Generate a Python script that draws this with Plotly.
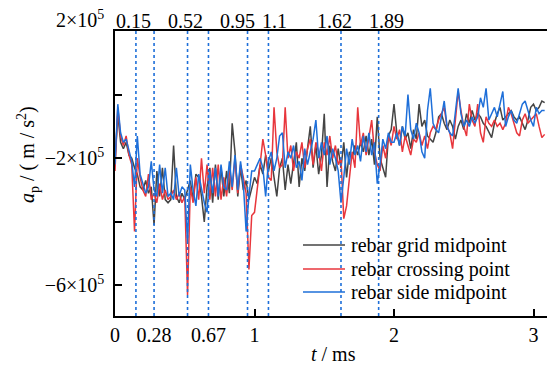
import plotly.graph_objects as go

# ---------------- data (acceleration in units of 10^5 m/s^2) ----------------
T_STEP = 0.02
N_PTS = 155
t_ms = [round(i * T_STEP, 2) for i in range(N_PTS)]

grid_midpoint = [
    -2.1, -0.6, -1.5, -1.7, -1.5, -1.9, -2.0, -2.3, -2.5, -2.9,
    -3.0, -2.7, -3.1, -2.9, -4.1, -2.4, -3.2, -2.3, -3.3, -3.4,
    -3.3, -1.6, -3.2, -3.4, -3.1, -3.3, -3.0, -2.7, -3.3, -2.5,
    -2.6, -3.2, -4.0, -2.9, -2.3, -3.4, -2.2, -3.3, -2.3, -3.2,
    -2.4, -3.1, -0.9, -1.8, -3.2, -2.3, -3.0, -2.7, -3.3, -2.9,
    -2.6, -2.8, -2.2, -2.5, -1.9, -2.4, -2.0, -2.6, -3.2, -2.3,
    -2.0, -3.0, -2.2, -2.8, -2.1, -1.5, -2.9, -2.0, -2.4, -1.7,
    -1.0, -2.3, -1.6, -2.5, -1.9, -0.6, -2.9, -1.6, -2.1, -2.4,
    -1.7, -2.3, -1.5, -2.6, -1.8, -2.0, -1.6, -1.9, -1.5, -1.8,
    -1.3, -1.9, -1.4, -2.2, -0.7, -2.0, -2.3, -2.6, -1.3, -1.1,
    -0.3, -1.2, -1.6, -1.0, -1.4, -1.2, -1.7, -1.1, -1.4, -0.3,
    -1.0, -0.8, -1.3, -1.4, -1.5, -1.2, -0.7, -0.6, -0.9, -1.1,
    -0.8, -1.0, -1.4, -1.0, -0.8, -1.1, -0.6, -0.9, -0.5, -0.8,
    -0.6, -0.7, -0.9, -1.0, -1.2, -1.35, -0.9, -0.6, -0.4, -0.8,
    -0.7, -0.6, -0.5, -0.7, -0.8, -0.7, -0.9, -1.1, -0.8, -0.4,
    -0.3, -0.5, -0.4, -0.2, -0.25,
]

crossing_point = [
    -2.4, -0.4, -1.3, -1.6, -1.3, -1.9, -2.2, -4.3, -2.0, -2.6,
    -3.0, -3.2, -2.5, -3.3, -3.1, -3.4, -2.8, -3.3, -3.0, -3.3,
    -3.2, -3.0, -3.3, -3.1, -3.4, -3.2, -6.3, -2.9, -3.4, -2.6,
    -3.3, -2.0, -3.1, -2.2, -3.3, -2.3, -3.2, -2.2, -3.3, -2.6,
    -3.2, -2.3, -3.0, -2.0, -3.1, -2.2, -2.6, -3.1, -5.5, -3.8,
    -3.7, -3.0, -2.2, -1.4, -1.9, -2.6, -2.7, -0.4, -1.8, -2.3,
    -2.2, -0.4, -2.0, -1.6, -2.4, -1.8, -2.0, -1.5, -2.3, -1.7,
    -1.4, -2.2, -1.5, -1.8, -2.4, -1.5, -1.9, -1.3, -2.0, -1.6,
    -2.2, -2.0, -3.9, -3.5, -2.6, -1.8, -2.3, -0.4, -1.6, -1.2,
    -1.9, -1.4, -0.8, -1.8, -2.2, -2.4, -1.6, -2.0, -1.3, -1.6,
    -1.0, -1.4, -1.1, -1.8, -1.3, -1.6, -1.9, -1.4, -1.5, -1.2,
    -1.6, -1.3, -1.7, -1.2, -1.0, -1.1, -0.8, -0.6, -0.4, -1.0,
    -1.2, -1.7, -0.9, 0.1, -0.5, -1.0, -1.3, -0.3, -0.8, -1.0,
    -0.3, -1.2, -1.5, -0.7, -0.9, -1.0, -0.8, -1.0, -0.9, -1.1,
    -0.9, -0.4, -0.6, -0.9, -1.2, -1.3, -0.8, -0.6, -0.9, -0.8,
    -0.7, -0.6, -1.0, -1.35, -1.25,
]

side_midpoint = [
    -2.2, -0.3, -1.2, -1.5, -1.4, -1.8, -2.1, -2.9, -1.3, -2.5,
    -2.8, -3.1, -2.9, -2.1, -3.0, -3.2, -2.2, -3.1, -2.3, -3.2,
    -3.1, -3.3, -2.3, -3.2, -2.9, -3.0, -4.6, -2.2, -3.0, -3.5,
    -2.5, -3.0, -3.4, -3.7, -2.4, -3.1, -2.3, -3.2, -2.2, -2.9,
    -3.0, -2.1, -2.9, -1.9, -3.0, -2.1, -2.8, -4.3, -3.2, -2.4,
    -2.4, -2.2, -2.0, -2.3, -3.2, -2.1, -1.8, -2.4, -2.0, -1.3,
    -1.2, -2.3, -1.8, -2.0, -1.6, -2.3, -2.1, -2.7, -1.7, -2.2,
    -1.8, -1.4, -0.8, -2.0, -1.5, -1.9, -1.3, -2.2, -1.7, -2.0,
    -2.4, -3.4, -2.6, -1.7, -2.2, -1.4, -1.9, -1.6, -2.1, -1.3,
    -1.8, -1.2, -1.9, -1.5, -2.8, -2.2, -1.4, -1.7, -1.2, -1.5,
    -1.5, -1.2, -1.6, -1.0, -1.3, 0.0, -1.1, -1.4, -0.9, -1.2,
    -1.8, -2.0, -0.5, 0.2, -0.9, -1.1, -1.2, -0.7, -0.2, -1.0,
    -1.2, -1.3, -0.6, 0.2, -0.6, -1.0, -0.8, -1.0, -0.7, -0.9,
    -0.7, -0.1, -0.4, 0.2, -0.8, -0.6, -0.4, -0.7, -0.3, 0.1,
    -1.0, -0.7, -0.5, -0.8, -0.9, -0.6, -0.3, -0.2, -0.5, -0.8,
    -1.0, -0.4, -0.6, -0.5, -0.5,
]

series_names = ["rebar grid midpoint", "rebar crossing point", "rebar side midpoint"]
series_values = [grid_midpoint, crossing_point, side_midpoint]
series_colors = ["#444444", "#e8363c", "#1e6fd9"]

marker_times = [0.15, 0.28, 0.52, 0.67, 0.95, 1.1, 1.62, 1.89]
bottom_tick_vals = [0, 0.28, 0.67, 1, 2, 3]
bottom_tick_text = ["0", "0.28", "0.67", "1", "2", "3"]
top_label_vals = [0.15, 0.52, 0.95, 1.1, 1.62, 1.89]
top_label_text = ["0.15", "0.52", "0.95", "1.1", "1.62", "1.89"]
top_label_shift = [-2, -2, -10, 6, -6, 8]
y_label_vals = [-2, -6]
y_label_text = ["−2×10<sup>5</sup>", "−6×10<sup>5</sup>"]
y_minor_vals = [2, 0, -4]
y_top_label = "2×10<sup>5</sup>"

# ---------------- layout geometry ----------------
W, H = 547, 367
ML, MR, MT, MB = 115, 0, 31, 51
PW, PH = W - ML - MR, H - MT - MB
FONT = "Liberation Serif"
FS = 20
Y_RANGE = [-6.96, 2.0]


def px_x(px):
    return (px - ML) / PW


def px_y(py):
    return (H - MB - py) / PH


fig = go.Figure()
for name, vals, col in zip(series_names, series_values, series_colors):
    fig.add_trace(go.Scatter(x=t_ms, y=vals, mode="lines", name=name,
                             line=dict(color=col, width=1.5), showlegend=False))

x_range = [0, PW / 139.5]

shapes = []
for tm in marker_times:
    shapes.append(dict(type="line", xref="x", yref="paper", x0=tm, x1=tm, y0=0, y1=1,
                       line=dict(color="#1e6fd9", width=1.6, dash="3px,3px"), layer="above"))

annotations = []
for v, txt, sh in zip(top_label_vals, top_label_text, top_label_shift):
    annotations.append(dict(xref="x", yref="paper", x=v, y=px_y(21), xshift=sh,
                            text=txt, showarrow=False, xanchor="center", yanchor="middle",
                            font=dict(family=FONT, size=FS, color="black")))

annotations.append(dict(xref="paper", yref="paper", x=px_x(106), y=px_y(19),
                        text=y_top_label, showarrow=False, xanchor="right", yanchor="middle",
                        font=dict(family=FONT, size=FS, color="black")))

legend_rows = [245, 269, 292]
for name, col, py in zip(series_names, series_colors, legend_rows):
    shapes.append(dict(type="line", xref="paper", yref="paper",
                       x0=px_x(303), x1=px_x(345), y0=px_y(py), y1=px_y(py),
                       line=dict(color=col, width=1.5)))
    annotations.append(dict(xref="paper", yref="paper", x=px_x(349), y=px_y(py),
                            text=name, showarrow=False, xanchor="left", yanchor="middle",
                            font=dict(family=FONT, size=FS, color="black")))

annotations.append(dict(xref="paper", yref="paper", x=px_x(28), y=px_y(155),
                        text="<i>a</i><sub>p</sub> / ( m / s<sup>2</sup>)", textangle=-90,
                        showarrow=False, xanchor="center", yanchor="middle",
                        font=dict(family=FONT, size=FS, color="black")))
annotations.append(dict(xref="paper", yref="paper", x=px_x(333), y=px_y(354),
                        text="<i>t</i> / ms", showarrow=False, xanchor="center", yanchor="middle",
                        font=dict(family=FONT, size=FS, color="black")))

fig.update_layout(
    width=W, height=H,
    margin=dict(l=ML, r=MR, t=MT, b=MB, autoexpand=False),
    paper_bgcolor="white", plot_bgcolor="white",
    font=dict(family=FONT, size=FS, color="black"),
    showlegend=False,
    shapes=shapes, annotations=annotations,
    xaxis=dict(range=x_range, tickvals=bottom_tick_vals, ticktext=bottom_tick_text,
               ticks="", showline=True, linecolor="black", linewidth=1.5, tickangle=0,
               automargin=False, showgrid=False, zeroline=False, tickfont=dict(size=FS)),
    xaxis2=dict(range=x_range, overlaying="x", side="top", showticklabels=False,
                ticks="", showline=True, linecolor="black", linewidth=1.5,
                automargin=False, showgrid=False, zeroline=False),
    xaxis3=dict(range=x_range, overlaying="x", side="bottom", tickvals=[1, 2, 3],
                showticklabels=False, ticks="inside", ticklen=7, tickwidth=1.5,
                tickcolor="black", showline=False, showgrid=False, zeroline=False,
                automargin=False),
    yaxis=dict(range=Y_RANGE, tickvals=y_label_vals, ticktext=y_label_text,
               ticks="inside", ticklen=7, tickwidth=1.5, tickcolor="black",
               showline=True, linecolor="black", linewidth=1.5, automargin=False,
               ticklabelstandoff=5,
               showgrid=False, zeroline=False, tickfont=dict(size=FS)),
    yaxis2=dict(range=Y_RANGE, overlaying="y", side="left", tickvals=y_minor_vals,
                showticklabels=False, ticks="inside", ticklen=7, tickwidth=1.5,
                tickcolor="black", showline=False, showgrid=False, zeroline=False,
                automargin=False),
)
# empty helper traces that activate the extra axes
fig.add_trace(go.Scatter(x=[None], y=[None], xaxis="x2", showlegend=False, hoverinfo="skip"))
fig.add_trace(go.Scatter(x=[None], y=[None], xaxis="x3", yaxis="y2", showlegend=False,
                         hoverinfo="skip"))

fig.write_html("out.html", config={"displayModeBar": False},
               post_script="document.body.style.margin='0';document.body.style.overflow='hidden';")
